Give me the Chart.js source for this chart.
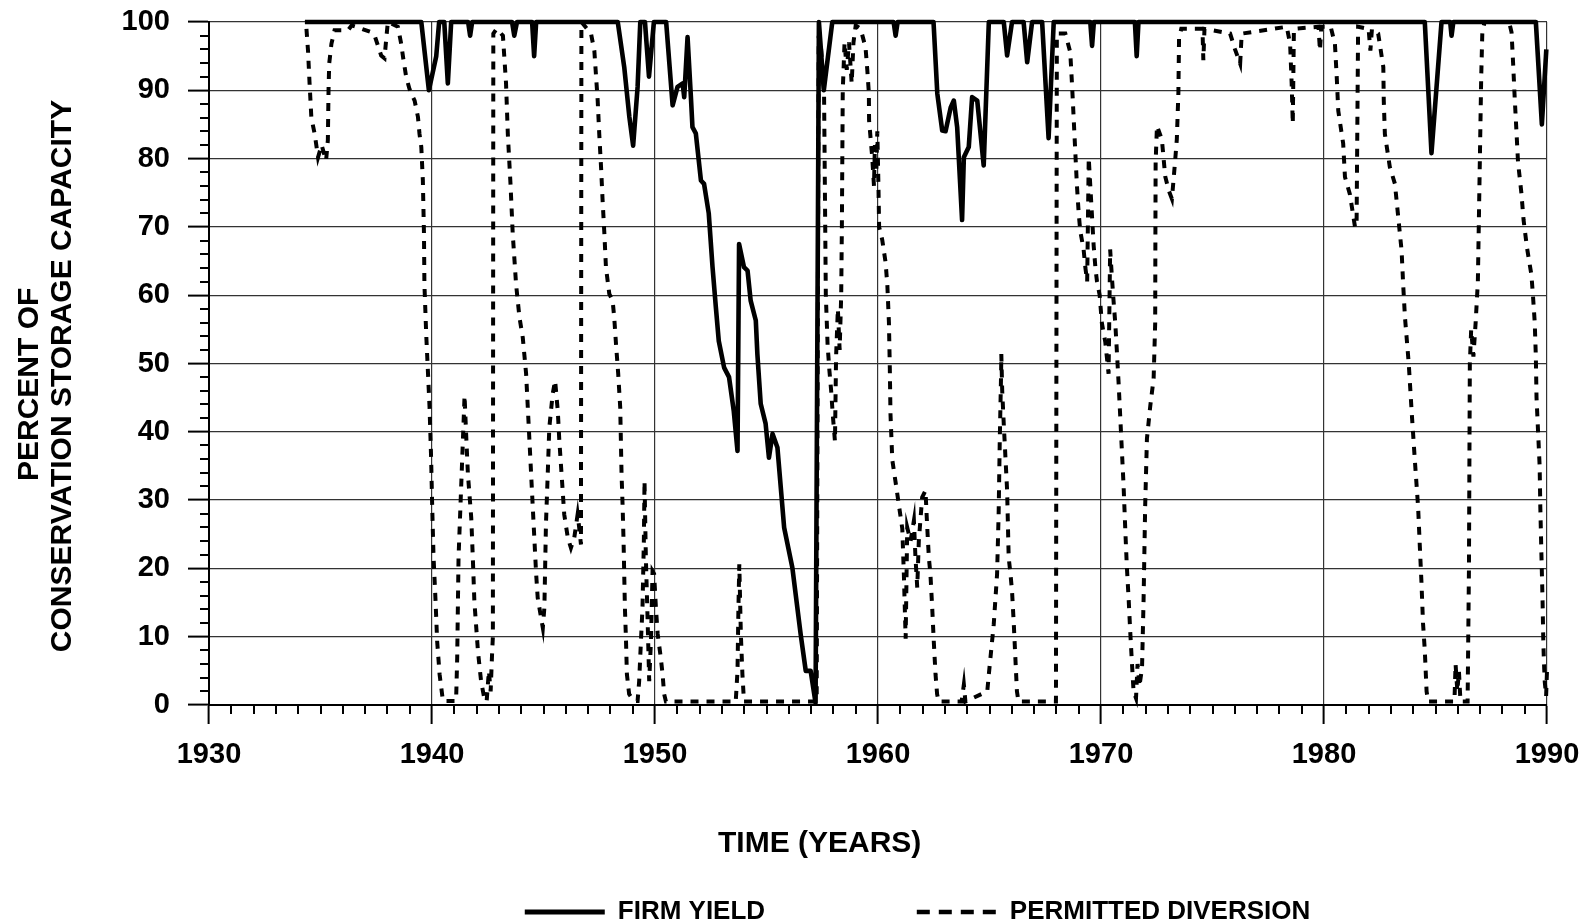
<!DOCTYPE html>
<html>
<head>
<meta charset="utf-8">
<script src="https://cdn.jsdelivr.net/npm/chart.js@4.4.1/dist/chart.umd.min.js"></script>
<style>
html,body{margin:0;padding:0;background:#fff;}
canvas{display:block;}
</style>
</head>
<body>
<canvas id="c" width="1585" height="924"></canvas>
<script>
const xTickValues = [1930, 1940, 1950, 1960, 1970, 1980, 1990];
const yTickValues = [0, 10, 20, 30, 40, 50, 60, 70, 80, 90, 100];
const seriesNames = ['FIRM YIELD', 'PERMITTED DIVERSION'];
const xTitle = 'TIME (YEARS)';
const yTitle = ['PERCENT OF', 'CONSERVATION STORAGE CAPACITY'];

const firmYears = [
1934.30,1939.52,1939.86,1940.19,1940.32,1940.55,1940.71,1940.86,1941.62,1941.71,1941.80,
1943.59,1943.69,1943.81,1944.49,1944.58,1944.67,1948.33,1948.62,1948.85,1949.02,1949.22,
1949.34,1949.55,1949.73,1949.95,1950.50,1950.79,1951.01,1951.24,1951.31,1951.46,1951.61,
1951.68,1951.83,1952.06,1952.20,1952.41,1952.58,1952.73,1952.86,1953.10,1953.32,1953.53,
1953.70,1953.77,1953.99,1954.15,1954.29,1954.52,1954.59,1954.74,1954.96,1955.11,1955.27,
1955.49,1955.79,1956.16,1956.53,1956.76,1956.98,1957.20,1957.35,1957.57,1957.95,1960.70,
1960.79,1960.88,1962.49,1962.66,1962.88,1963.03,1963.26,1963.40,1963.55,1963.77,1963.85,
1964.07,1964.22,1964.45,1964.74,1964.97,1965.64,1965.79,1966.01,1966.53,1966.69,1966.91,
1967.36,1967.65,1967.88,1969.52,1969.60,1969.68,1971.52,1971.60,1971.68,1984.52,1984.82,
1985.27,1985.66,1985.72,1985.80,1989.50,1989.77,1989.97
];
const firmValues = [
100,100,90,95,100,100,91,100,100,98,100,
100,98,100,100,95,100,100,93.4,86.1,81.9,90.5,
100,100,92,100,100,87.8,90.5,91,89,97.8,89,
84.6,83.7,76.8,76.3,72,64.1,58.2,53.3,49.4,48,43.1,
37.2,67.5,64.1,63.6,59.2,56.3,51.4,44.1,41.2,36.2,39.7,
37.7,26,20.1,10.4,5,5,0.3,100,90,100,100,
98,100,100,89.5,84.1,84,87.5,88.5,84.6,71,80.2,
81.7,89,88.5,79,100,100,95.1,100,100,94.1,100,
100,83,100,100,96.5,100,100,95,100,100,80.8,
100,100,98,100,100,85,96
];

const divYears = [
1934.37,1934.44,1934.51,1934.59,1934.74,1934.89,1935.05,1935.25,1935.33,1935.36,1935.39,1935.49,1935.63,
1936.23,1936.40,1936.60,1937.28,1937.43,1937.72,1937.87,1937.95,1938.02,1938.47,1938.62,1938.70,1938.84,
1938.99,1939.07,1939.22,1939.37,1939.44,1939.52,1939.59,1939.64,1939.66,1939.74,1939.89,1939.96,1940.01,
1940.07,1940.16,1940.23,1940.34,1940.49,1941.08,1941.13,1941.16,1941.19,1941.46,1941.53,1941.61,1941.76,
1941.83,1941.90,1942.06,1942.20,1942.35,1942.45,1942.55,1942.63,1942.70,1942.73,1942.75,1942.90,1943.18,
1943.32,1943.40,1943.52,1943.62,1943.77,1943.92,1944.07,1944.22,1944.37,1944.52,1944.67,1944.74,1944.89,
1944.97,1945.04,1945.11,1945.19,1945.26,1945.41,1945.52,1945.64,1945.71,1945.79,1945.86,1945.93,1946.09,
1946.23,1946.38,1946.53,1946.60,1946.68,1946.70,1947.13,1947.28,1947.43,1947.50,1947.58,1947.65,1947.73,
1947.80,1947.95,1948.10,1948.17,1948.25,1948.35,1948.44,1948.47,1948.50,1948.55,1948.59,1948.62,1948.65,
1948.70,1948.74,1948.84,1949.05,1949.22,1949.29,1949.37,1949.44,1949.50,1949.53,1949.59,1949.67,1949.74,
1949.82,1949.89,1949.96,1950.04,1950.12,1950.26,1950.34,1950.41,1950.49,1953.62,1953.70,1953.74,1953.78,
1953.85,1953.92,1953.99,1957.25,1957.34,1957.45,1957.58,1957.66,1957.74,1957.82,1957.90,1957.97,1958.07,
1958.12,1958.20,1958.28,1958.35,1958.38,1958.42,1958.50,1958.60,1958.70,1958.82,1958.90,1959.00,1959.22,
1959.44,1959.52,1959.59,1959.60,1959.67,1959.74,1959.82,1959.86,1959.92,1959.97,1960.02,1960.05,1960.19,
1960.34,1960.42,1960.49,1960.53,1960.56,1960.64,1960.79,1960.94,1961.09,1961.16,1961.24,1961.31,1961.46,
1961.61,1961.68,1961.76,1961.83,1961.98,1962.13,1962.20,1962.28,1962.35,1962.43,1962.50,1962.58,1962.65,
1962.72,1963.75,1963.85,1963.92,1964.90,1964.97,1965.19,1965.34,1965.41,1965.46,1965.49,1965.52,1965.53,
1965.57,1965.64,1965.79,1965.86,1965.94,1966.01,1966.09,1966.16,1966.23,1966.30,1967.98,1968.02,1968.40,
1968.62,1968.70,1968.77,1968.85,1968.92,1969.00,1969.07,1969.22,1969.30,1969.38,1969.45,1969.52,1969.60,
1969.67,1969.75,1969.82,1969.94,1970.04,1970.19,1970.34,1970.41,1970.49,1970.56,1970.64,1970.71,1970.79,
1970.86,1970.94,1971.01,1971.09,1971.16,1971.24,1971.31,1971.39,1971.46,1971.57,1971.64,1971.72,1971.84,
1971.91,1971.98,1972.06,1972.21,1972.36,1972.43,1972.44,1972.45,1972.51,1972.73,1972.88,1973.03,1973.18,
1973.32,1973.40,1973.47,1973.50,1973.60,1974.55,1974.59,1974.64,1975.79,1976.01,1976.24,1976.31,1978.33,
1978.48,1978.55,1978.60,1978.65,1979.75,1979.82,1979.88,1980.30,1980.49,1980.57,1980.64,1980.86,1980.94,
1981.16,1981.39,1981.46,1981.53,1982.00,1982.08,1982.15,1982.43,1982.66,1982.68,1982.73,1982.95,1983.18,
1983.33,1983.48,1983.55,1983.63,1983.70,1983.80,1983.93,1984.07,1984.22,1984.30,1984.37,1984.44,1984.52,
1984.60,1984.67,1985.85,1985.90,1985.98,1986.05,1986.12,1986.44,1986.50,1986.54,1986.60,1986.70,1986.80,
1986.90,1986.95,1987.00,1987.05,1987.10,1987.20,1988.30,1988.41,1988.48,1988.55,1988.63,1988.70,1988.85,
1988.95,1989.10,1989.30,1989.37,1989.45,1989.50,1989.53,1989.60,1989.67,1989.70,1989.75,1989.80,1989.83,
1989.86,1989.90,1989.96,1990.00
];
const divValues = [
99,95.8,91,86,83.6,80.2,82,79.7,82.7,90,93.9,96.8,98.8,
98.8,99.5,99.3,98.5,98,95.1,94.7,97.6,100,99.3,96.8,94.9,92,
90.2,89.5,88.5,86.1,83.6,81.7,76.8,69,61.6,54.3,43.6,36.2,28.9,
21.6,15.2,9.4,4.5,0.6,0.6,6.9,14.3,21.6,45.3,39.7,33.8,27.4,
21.6,15.2,7.9,3.5,0.9,0.5,5,2,8,10,98.3,99,98,
91,83.6,76.3,69,61.6,56.8,53.8,48.5,38.7,28.9,19.2,15.7,12.8,
11.3,14.3,26.5,33.8,40.6,45.5,47.5,43.1,38.7,34.8,31.4,27.9,24.5,
23,24.5,27.9,26,23.5,100,98.3,95.8,88.5,83.6,78.8,73.9,69,
64.1,60.2,59.2,56.8,52.9,48.5,43.6,38.7,33.8,28.9,24,19.2,14.3,
9.4,4.5,1.6,0.6,0.6,3.5,9.4,14.3,24,32.8,21.6,12.3,3.5,
9.4,19.6,19.2,14.3,10.4,6.9,4.5,1.6,0.5,0.5,5,14,20.6,
10.4,4.5,0.5,0.5,98,96,90,60,52.7,49,46,42.6,38.6,
51,58,52,60,70,90,97,93,97,91,97,99.5,99,
96.3,93,89.6,85.6,82.9,80.2,76,82,78,84,76,70,68.1,
64.8,61.4,56,49.3,42.6,35.9,32.6,29.2,25.8,19.1,9.7,26,24,
27,21.6,17.2,24,30.4,31.4,26.5,21.6,19.2,14.3,9.4,4.5,1.6,
0.5,0.5,3,0.5,2,4.5,11.8,19.2,28,38.7,43.6,48.5,51.4,
46,41.1,31.4,21.6,19.2,16.7,11.8,6.9,2,0.5,0.5,98.3,98.3,
95.6,90.9,86.2,80.8,76.1,72,69.4,66.7,64,62,80.1,76,71.4,
67.3,64,62,60,55.9,53.2,48.5,66.7,62.6,59.3,55.9,51.9,47.1,
42.4,37,32.3,25.6,20.2,15.5,10.8,6,2,1,6,2.7,5.4,
15.5,29,39,43.8,47.8,55.9,69.4,79.5,84.8,82.8,77.4,75.4,74.1,
79.5,82.8,89.6,97.6,99,99,94.4,99,98.3,96,93.9,98.3,99.3,
96.8,91,85.1,99,99.3,95.8,99.3,99.3,96.8,92,87,82.2,77.3,
74.8,70,70,99.3,99,95.8,99,98.3,93.4,88.5,83.6,78.8,76.3,
71.4,66.5,61.6,56.8,54,50,43,36,29,23,18,12,8,
2,0.5,0.5,6,2,5,0.5,0.5,20,50,55,51,56,
62,72,82,92,98.5,100,100,98.5,94,89,84,79.5,75,
71,67,63,60,56,51,45,40,35,29,22,15.5,10,
6.5,3.4,1.3,5
];

const FONT = "'Liberation Sans', Arial, Helvetica, sans-serif";
const NB = '\u00A0';

const minorTicks = {
  id: 'minorTicks',
  afterDraw(chart) {
    const {ctx, chartArea} = chart;
    const xs = chart.scales.x, ys = chart.scales.y;
    ctx.save();
    ctx.strokeStyle = '#000';
    ctx.lineWidth = 2;
    ctx.beginPath();
    for (let v = xs.min; v <= xs.max; v += 1) {
      if (v % 10 === 0) continue;
      const px = Math.round(xs.getPixelForValue(v));
      ctx.moveTo(px, chartArea.bottom);
      ctx.lineTo(px, chartArea.bottom + 9);
    }
    for (let v = ys.min; v <= ys.max; v += 2) {
      if (v % 10 === 0) continue;
      const py = Math.round(ys.getPixelForValue(v));
      ctx.moveTo(chartArea.left - 9, py);
      ctx.lineTo(chartArea.left, py);
    }
    ctx.stroke();
    ctx.restore();
  }
};

function zeroPad(scale) {
  scale.paddingTop = 0; scale.paddingBottom = 0;
  scale.paddingLeft = 0; scale.paddingRight = 0;
}

const firmData = firmYears.map((x, i) => ({x: x, y: firmValues[i]}));
const divData = divYears.map((x, i) => ({x: x, y: divValues[i]}));

new Chart(document.getElementById('c').getContext('2d'), {
  type: 'line',
  data: {
    datasets: [
      { label: seriesNames[0], data: firmData, borderColor: '#000', backgroundColor: '#000',
        borderWidth: 4.6, pointRadius: 0, tension: 0, borderJoinStyle: 'round', clip: 10, fill: false },
      { label: seriesNames[1], data: divData, borderColor: '#000', backgroundColor: '#000',
        borderWidth: 4, borderDash: [8, 8], pointRadius: 0, tension: 0, clip: 10, fill: false }
    ]
  },
  options: {
    responsive: false,
    animation: false,
    devicePixelRatio: 1,
    layout: { padding: { top: 22, right: 38, bottom: 0, left: 0 } },
    plugins: {
      tooltip: { enabled: false },
      legend: {
        position: 'bottom',
        align: 'center',
        maxHeight: 25,
        labels: {
          usePointStyle: true,
          pointStyleWidth: 80,
          padding: 0,
          color: '#000',
          font: { family: FONT, size: 26, weight: 'bold' },
          generateLabels(chart) {
            const items = [{
              text: NB.repeat(27), pointStyle: 'line', strokeStyle: 'rgba(0,0,0,0)',
              fillStyle: 'rgba(0,0,0,0)', lineWidth: 0, hidden: false, fontColor: '#000'
            }];
            chart.data.datasets.forEach((ds, i) => {
              items.push({
                text: ds.label + (i === 0 ? NB.repeat(21) : ''),
                pointStyle: 'line', strokeStyle: '#000', fillStyle: '#000',
                lineWidth: i === 0 ? 5 : 4.5, lineDash: i === 0 ? [] : [13, 9],
                lineCap: 'butt', hidden: false, datasetIndex: i, fontColor: '#000'
              });
            });
            return items;
          }
        }
      }
    },
    scales: {
      x: {
        type: 'linear',
        min: xTickValues[0],
        max: xTickValues[xTickValues.length - 1],
        afterBuildTicks(scale) { scale.ticks = xTickValues.map(v => ({value: v})); },
        afterFit(scale) { scale.height = 194; zeroPad(scale); },
        ticks: {
          color: '#000', padding: 14, maxRotation: 0, autoSkip: false,
          font: { family: FONT, size: 29, weight: 'bold' },
          callback: v => String(v)
        },
        grid: { color: '#333', lineWidth: 1.2, tickLength: 19, tickColor: '#000', tickWidth: 2 },
        border: { color: '#000', width: 2 },
        title: {
          display: true, text: xTitle + NB.repeat(14), color: '#000',
          font: { family: FONT, size: 30, weight: 'bold', lineHeight: 1.1 },
          padding: { top: 0, bottom: 38.5 }
        }
      },
      y: {
        min: yTickValues[0],
        max: yTickValues[yTickValues.length - 1],
        afterBuildTicks(scale) { scale.ticks = yTickValues.map(v => ({value: v})); },
        afterFit(scale) { scale.width = 209; zeroPad(scale); },
        ticks: {
          color: '#000', padding: 18,
          font: { family: FONT, size: 29, weight: 'bold' }
        },
        grid: { color: '#333', lineWidth: 1.2, tickLength: 21, tickColor: '#000', tickWidth: 2 },
        border: { color: '#000', width: 2 },
        title: {
          display: true, text: [yTitle[0] + NB.repeat(5), yTitle[1] + NB.repeat(3)], color: '#000',
          font: { family: FONT, size: 30, weight: 'bold', lineHeight: 33 / 30 },
          padding: { top: 13.5, bottom: 0 }
        }
      }
    }
  },
  plugins: [minorTicks]
});
</script>
</body>
</html>
